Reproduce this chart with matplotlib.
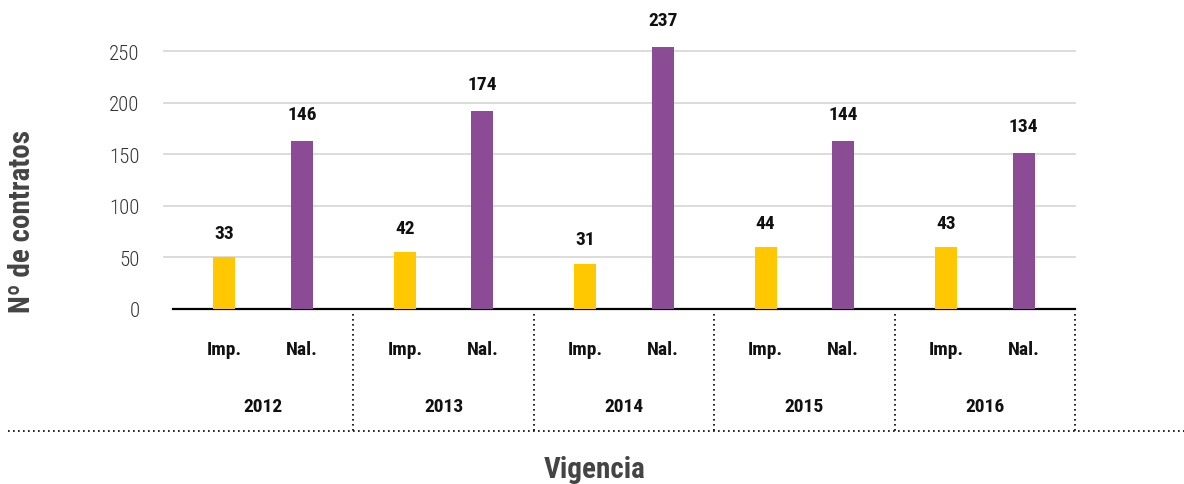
import matplotlib.pyplot as plt
import matplotlib.transforms as mtransforms
from matplotlib.lines import Line2D

# data
years = ["2012", "2013", "2014", "2015", "2016"]
imp_heights = [50, 55, 44, 60, 60]
nal_heights = [163, 192, 254, 163, 151]
imp_labels = ["33", "42", "31", "44", "43"]
nal_labels = ["146", "174", "237", "144", "134"]
y_ticks = [0, 50, 100, 150, 200, 250]

YELLOW = "#FFC800"
PURPLE = "#8B4C95"

plt.rcParams["font.family"] = ["Roboto Condensed", "Barlow Condensed", "DejaVu Sans"]

fig = plt.figure(figsize=(11.84, 4.85), dpi=100)
ax = fig.add_axes([173 / 1184, 1 - 310 / 485, 902 / 1184, 278.6 / 485])

x = list(range(len(years)))
off = 0.215
w = 0.122
ax.bar([i - off for i in x], imp_heights, width=w, color=YELLOW, zorder=3)
ax.bar([i + off for i in x], nal_heights, width=w, color=PURPLE, zorder=3)

for i in x:
    ax.annotate(imp_labels[i], (i - off, imp_heights[i]), xytext=(0, 11),
                textcoords="offset points", ha="center", va="bottom",
                fontsize=14, fontweight="bold", color="#111111")
    ax.annotate(nal_labels[i], (i + off, nal_heights[i]), xytext=(0, 13),
                textcoords="offset points", ha="center", va="bottom",
                fontsize=14, fontweight="bold", color="#111111")

ax.set_xlim(-0.5, len(years) - 0.5)
ax.set_ylim(0, 270)

# gridlines, starting a bit left of the axis
for y in y_ticks[1:]:
    ax.plot([-0.01, 1], [y, y], transform=ax.get_yaxis_transform(),
            color="#d9d9d9", lw=1.3, clip_on=False, zorder=0)

ax.set_yticks(y_ticks)
ax.set_yticklabels([str(t) for t in y_ticks], fontsize=15, fontweight=300, color="#333333")
ax.tick_params(axis="y", length=0, pad=24)
ax.set_xticks([])
for s in ["top", "right", "left"]:
    ax.spines[s].set_visible(False)
ax.spines["bottom"].set_color("black")
ax.spines["bottom"].set_linewidth(1.6)

# category and year labels below the axis
blend = mtransforms.blended_transform_factory(ax.transData, fig.transFigure)
for i in x:
    ax.text(i - off, 1 - 350 / 485, "Imp.", transform=blend, ha="center", va="center",
            fontsize=14, fontweight="bold", color="#111111")
    ax.text(i + off, 1 - 350 / 485, "Nal.", transform=blend, ha="center", va="center",
            fontsize=14, fontweight="bold", color="#111111")
    ax.text(i, 1 - 407 / 485, years[i], transform=blend, ha="center", va="center",
            fontsize=14, fontweight="bold", color="#111111")

# dotted separators
for i in x:
    sx = i + 0.5
    ax.plot([sx, sx], [1 - 315 / 485, 1 - 432 / 485], transform=blend,
            color="black", lw=1.2, ls=(0, (1, 2)), clip_on=False)
fig.add_artist(Line2D([8 / 1184, 1], [1 - 432 / 485] * 2, transform=fig.transFigure,
                      color="black", lw=1.2, ls=(0, (1, 2))))

fig.text(22 / 1184, 1 - 222 / 485, "Nº de contratos", rotation=90, ha="center", va="center",
         fontsize=21, fontweight="bold", color="#444444")
fig.text(595 / 1184, 1 - 470 / 485, "Vigencia", ha="center", va="center",
         fontsize=21, fontweight="bold", color="#444444")

fig.savefig("out.png", dpi=100)
